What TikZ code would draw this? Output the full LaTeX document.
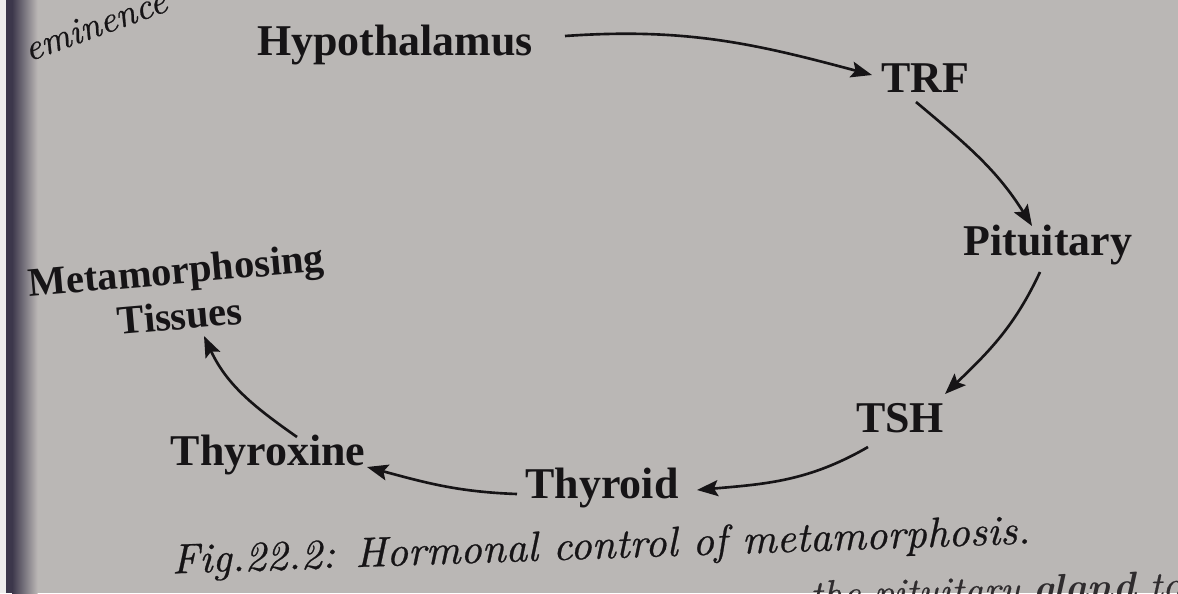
\documentclass[tikz,border=0pt]{standalone}
\usepackage{fontspec}
\setmainfont{Liberation Serif}
\newfontfamily\lmit{lmroman10-italic.otf}[FakeBold=0.6]
\newfontfamily\lmbi{lmroman10-bolditalic.otf}
\usetikzlibrary{arrows.meta,calc}
\definecolor{paper}{RGB}{186,183,181}
\definecolor{ink}{RGB}{22,20,22}
\definecolor{spine}{RGB}{60,55,75}
\begin{document}
\begin{tikzpicture}[x=1cm,y=1cm,
 lbl/.style={font=\fontsize{25}{28}\selectfont\bfseries, text=ink, inner sep=0pt},
 flow/.style={draw=ink, line width=1.5pt, -{Stealth[length=0.42cm,width=0.32cm,inset=0.08cm]}},
 note/.style={text=ink, inner sep=0pt}
]
\useasboundingbox (0,0) rectangle (23.56,-11.86);
\fill[paper] (0,0) rectangle (23.56,-11.86);
\fill[white!75!paper] (0,0) rectangle (0.12,-11.86);
\fill[spine] (0.12,0) rectangle (0.24,-11.86);
\shade[left color=spine, right color=paper] (0.24,0) rectangle (0.75,-11.86);

\node[lbl] (hyp) at (7.9,-0.9) {Hypothalamus};
\node[lbl] (trf) at (18.5,-1.56) {TRF};
\node[lbl] (pit) at (20.96,-4.9) {Pituitary};
\node[lbl] (tsh) at (18.0,-8.36) {TSH};
\node[lbl] (thyd) at (12.04,-9.76) {Thyroid};
\node[lbl] (thx) at (5.36,-9.1) {Thyroxine};
\node[lbl, font=\fontsize{23}{26}\selectfont\bfseries, align=center, rotate=5] (tis) at (3.56,-5.86) {Metamorphosing\\Tissues};

\draw[flow] ($(hyp)+(3.4,0.18)$) to[out=4,in=165] ($(trf)+(-1.06,0.06)$);
\draw[flow] ($(trf)+(-0.18,-0.48)$) to[out=-40,in=122] ($(pit)+(-0.32,0.38)$);
\draw[flow] ($(pit)+(-0.16,-0.54)$) to[out=-115,in=44] ($(tsh)+(0.9,0.48)$);
\draw[flow] ($(tsh)+(-0.64,-0.58)$) to[out=210,in=5] ($(thyd)+(1.9,-0.04)$);
\draw[flow] ($(thyd)+(-1.7,-0.12)$) to[out=178,in=-15] ($(thx)+(1.98,-0.24)$);
\draw[flow] ($(thx)+(0.58,0.36)$) to[out=145,in=-65] ($(tis)+(0.52,-0.86)$);

\node[note, font=\fontsize{24}{28}\selectfont\lmit, rotate=2] (cap) at (12.02,-10.96) {Fig.22.2: Hormonal control of metamorphosis.};
\node[note, font=\fontsize{21}{22}\selectfont\lmit, rotate=20] (emi) at (1.9,-0.5) {eminence};
\node[note, text=ink!85!paper, font=\fontsize{22}{24}\selectfont\lmit, anchor=base west, rotate=1.5] (frag) at (16.2,-12.15) {the pituitary {\lmbi gland} to};
\end{tikzpicture}
\end{document}
